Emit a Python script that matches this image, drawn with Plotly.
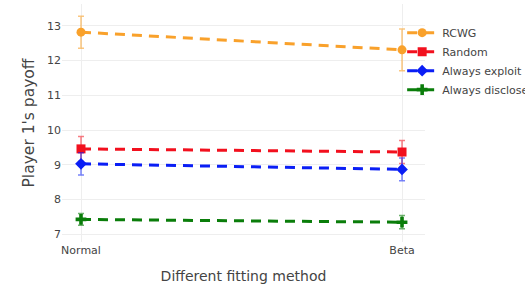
import plotly.graph_objects as go

methods = ["Normal", "Beta"]
series_names = ["RCWG", "Random", "Always exploit", "Always disclose"]
rcwg = [12.82, 12.31]
rcwg_err = [0.46, 0.6]
random_ = [9.46, 9.37]
random_err = [0.36, 0.33]
exploit = [9.03, 8.87]
exploit_err = [0.32, 0.33]
disclose = [7.43, 7.35]
disclose_err = [0.17, 0.19]

colors = ["#F9A12B", "#F2101E", "#0A1EF5", "#0A7D0A"]
err_colors = ["rgba(249,161,43,0.6)", "rgba(242,16,30,0.55)", "rgba(10,30,245,0.55)", "rgba(10,125,10,0.6)"]
symbols = ["circle", "square", "diamond", "cross"]
values = [rcwg, random_, exploit, disclose]
errs = [rcwg_err, random_err, exploit_err, disclose_err]

fig = go.Figure()
for name, v, e, c, ec, s in zip(series_names, values, errs, colors, err_colors, symbols):
    fig.add_trace(go.Scatter(
        x=methods, y=v, name=name, mode="lines+markers",
        line=dict(color=c, width=3, dash="10px,7px"),
        marker=dict(color=c, size=9, symbol=s),
        error_y=dict(type="data", array=e, visible=True, color=ec, thickness=1.5, width=3),
    ))

fig.update_layout(
    width=525, height=288,
    margin=dict(l=62, r=100, t=4, b=46, autoexpand=False),
    paper_bgcolor="white", plot_bgcolor="white",
    font=dict(family="DejaVu Sans, Verdana, sans-serif", color="#444"),
    showlegend=True,
    legend=dict(xref="container", yref="container", x=0.766, y=0.937,
                xanchor="left", yanchor="top", font=dict(size=11), itemwidth=30,
                bgcolor="rgba(0,0,0,0)"),
    xaxis=dict(
        type="category", range=[-0.0592, 1.0716],
        title=dict(text="Different fitting method", font=dict(size=14)),
        showgrid=True, gridcolor="#eee", zeroline=False, showline=False,
        tickfont=dict(size=11), automargin=False,
    ),
    yaxis=dict(
        range=[6.78, 13.63], dtick=1,
        title=dict(text="Player 1's payoff", font=dict(size=15.5), standoff=8),
        showgrid=True, gridcolor="#eee", zeroline=False, showline=False,
        tickfont=dict(size=11), automargin=True,
    ),
)
fig.write_html("out.html", config={"displayModeBar": False},
               post_script="document.body.style.margin='0';")
